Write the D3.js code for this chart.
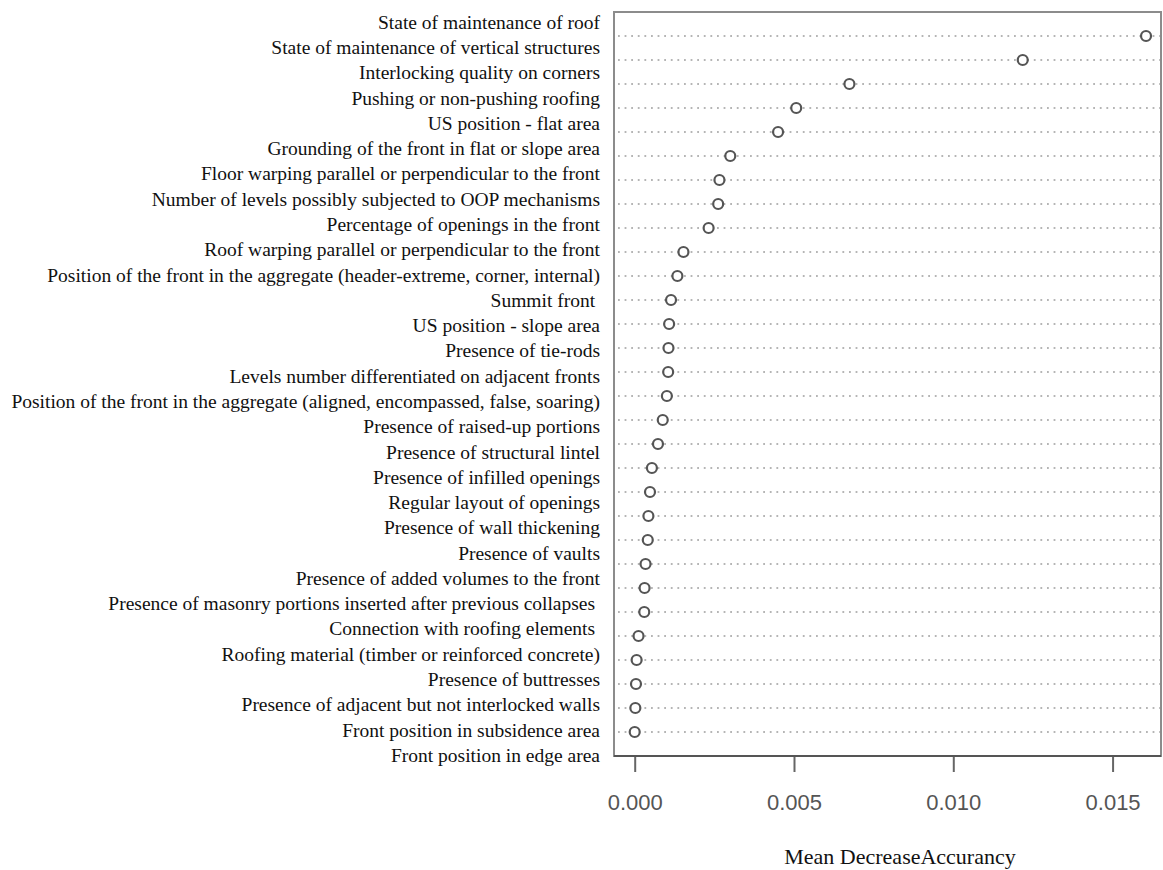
<!DOCTYPE html>
<html>
<head>
<meta charset="utf-8">
<script src="https://cdn.jsdelivr.net/npm/d3@7"></script>
<style>
  html, body { margin: 0; padding: 0; background: #fff; }
  svg { display: block; }
</style>
</head>
<body>
<svg id="chart" width="1163" height="870"></svg>
<script>
const labels = [
  "State of maintenance of roof",
  "State of maintenance of vertical structures",
  "Interlocking quality on corners",
  "Pushing or non-pushing roofing",
  "US position - flat area",
  "Grounding of the front in flat or slope area",
  "Floor warping parallel or perpendicular to the front",
  "Number of levels possibly subjected to OOP mechanisms",
  "Percentage of openings in the front",
  "Roof warping parallel or perpendicular to the front",
  "Position of the front in the aggregate (header-extreme, corner, internal)",
  "Summit front ",
  "US position - slope area",
  "Presence of tie-rods",
  "Levels number differentiated on adjacent fronts",
  "Position of the front in the aggregate (aligned, encompassed, false, soaring)",
  "Presence of raised-up portions",
  "Presence of structural lintel",
  "Presence of infilled openings",
  "Regular layout of openings",
  "Presence of wall thickening",
  "Presence of vaults",
  "Presence of added volumes to the front",
  "Presence of masonry portions inserted after previous collapses ",
  "Connection with roofing elements ",
  "Roofing material (timber or reinforced concrete)",
  "Presence of buttresses",
  "Presence of adjacent but not interlocked walls",
  "Front position in subsidence area",
  "Front position in edge area"
];
const values = [
  0.01605, 0.01218, 0.00674, 0.00507, 0.00450, 0.00300, 0.00266, 0.00262,
  0.00232, 0.00153, 0.00134, 0.00114, 0.00108, 0.00106, 0.00105, 0.00101,
  0.00088, 0.00073, 0.00054, 0.00048, 0.00043, 0.00041, 0.00034, 0.00031,
  0.00030, 0.00012, 0.00006, 0.00004, 0.00002, 0.00000
];
const xTicks = [0, 0.005, 0.010, 0.015];
const xTitle = "Mean DecreaseAccurancy";

const box = { left: 614, right: 1161, top: 12, bottom: 756 };
const svg = d3.select("#chart");

const x = d3.scaleLinear().domain([-0.00065, 0.01652]).range([box.left, box.right]);
const yPts = d3.scalePoint().domain(labels).range([36, 732]);
const yLab = d3.scalePoint().domain(labels).range([22, 755]);

// dotted gridlines
svg.append("g").selectAll("line").data(labels).join("line")
  .attr("x1", box.left + 4).attr("x2", box.right)
  .attr("y1", d => yPts(d)).attr("y2", d => yPts(d))
  .attr("stroke", "#b5b5b5").attr("stroke-width", 1.8)
  .attr("stroke-dasharray", "1.8 4.8");

// box
svg.append("rect")
  .attr("x", box.left).attr("y", box.top)
  .attr("width", box.right - box.left).attr("height", box.bottom - box.top)
  .attr("fill", "none").attr("stroke", "#8c8c8c").attr("stroke-width", 2);

// bottom axis
const axis = d3.axisBottom(x).tickValues(xTicks).tickFormat(d3.format(".3f"))
  .tickSizeInner(16).tickSizeOuter(0).tickPadding(22);
const gx = svg.append("g").attr("transform", `translate(0,${box.bottom})`).call(axis);
gx.select(".domain").remove();
gx.append("line").attr("x1", box.left).attr("x2", box.right)
  .attr("stroke", "#555").attr("stroke-width", 2);
gx.selectAll(".tick line").attr("stroke", "#666").attr("stroke-width", 2);
gx.selectAll(".tick text")
  .attr("fill", "#555")
  .style("font-family", "'Liberation Sans', Arial, sans-serif")
  .style("font-size", "22px");

// points
svg.append("g").selectAll("circle").data(values).join("circle")
  .attr("cx", d => x(d))
  .attr("cy", (d, i) => yPts(labels[i]))
  .attr("r", 5)
  .attr("fill", "#fff").attr("stroke", "#555").attr("stroke-width", 2.2);

// labels
svg.append("g").selectAll("text").data(labels).join("text")
  .attr("x", 600)
  .attr("y", d => yLab(d))
  .attr("dy", "0.35em")
  .attr("text-anchor", "end")
  .attr("fill", "#111")
  .style("font-family", "'Liberation Serif', 'Times New Roman', serif")
  .style("font-size", "19.5px")
  .style("white-space", "pre")
  .text(d => d);

// axis title
svg.append("text")
  .attr("x", 900)
  .attr("y", 864)
  .attr("text-anchor", "middle")
  .attr("fill", "#111")
  .style("font-family", "'Liberation Serif', 'Times New Roman', serif")
  .style("font-size", "22px")
  .text(xTitle);
</script>
</body>
</html>
